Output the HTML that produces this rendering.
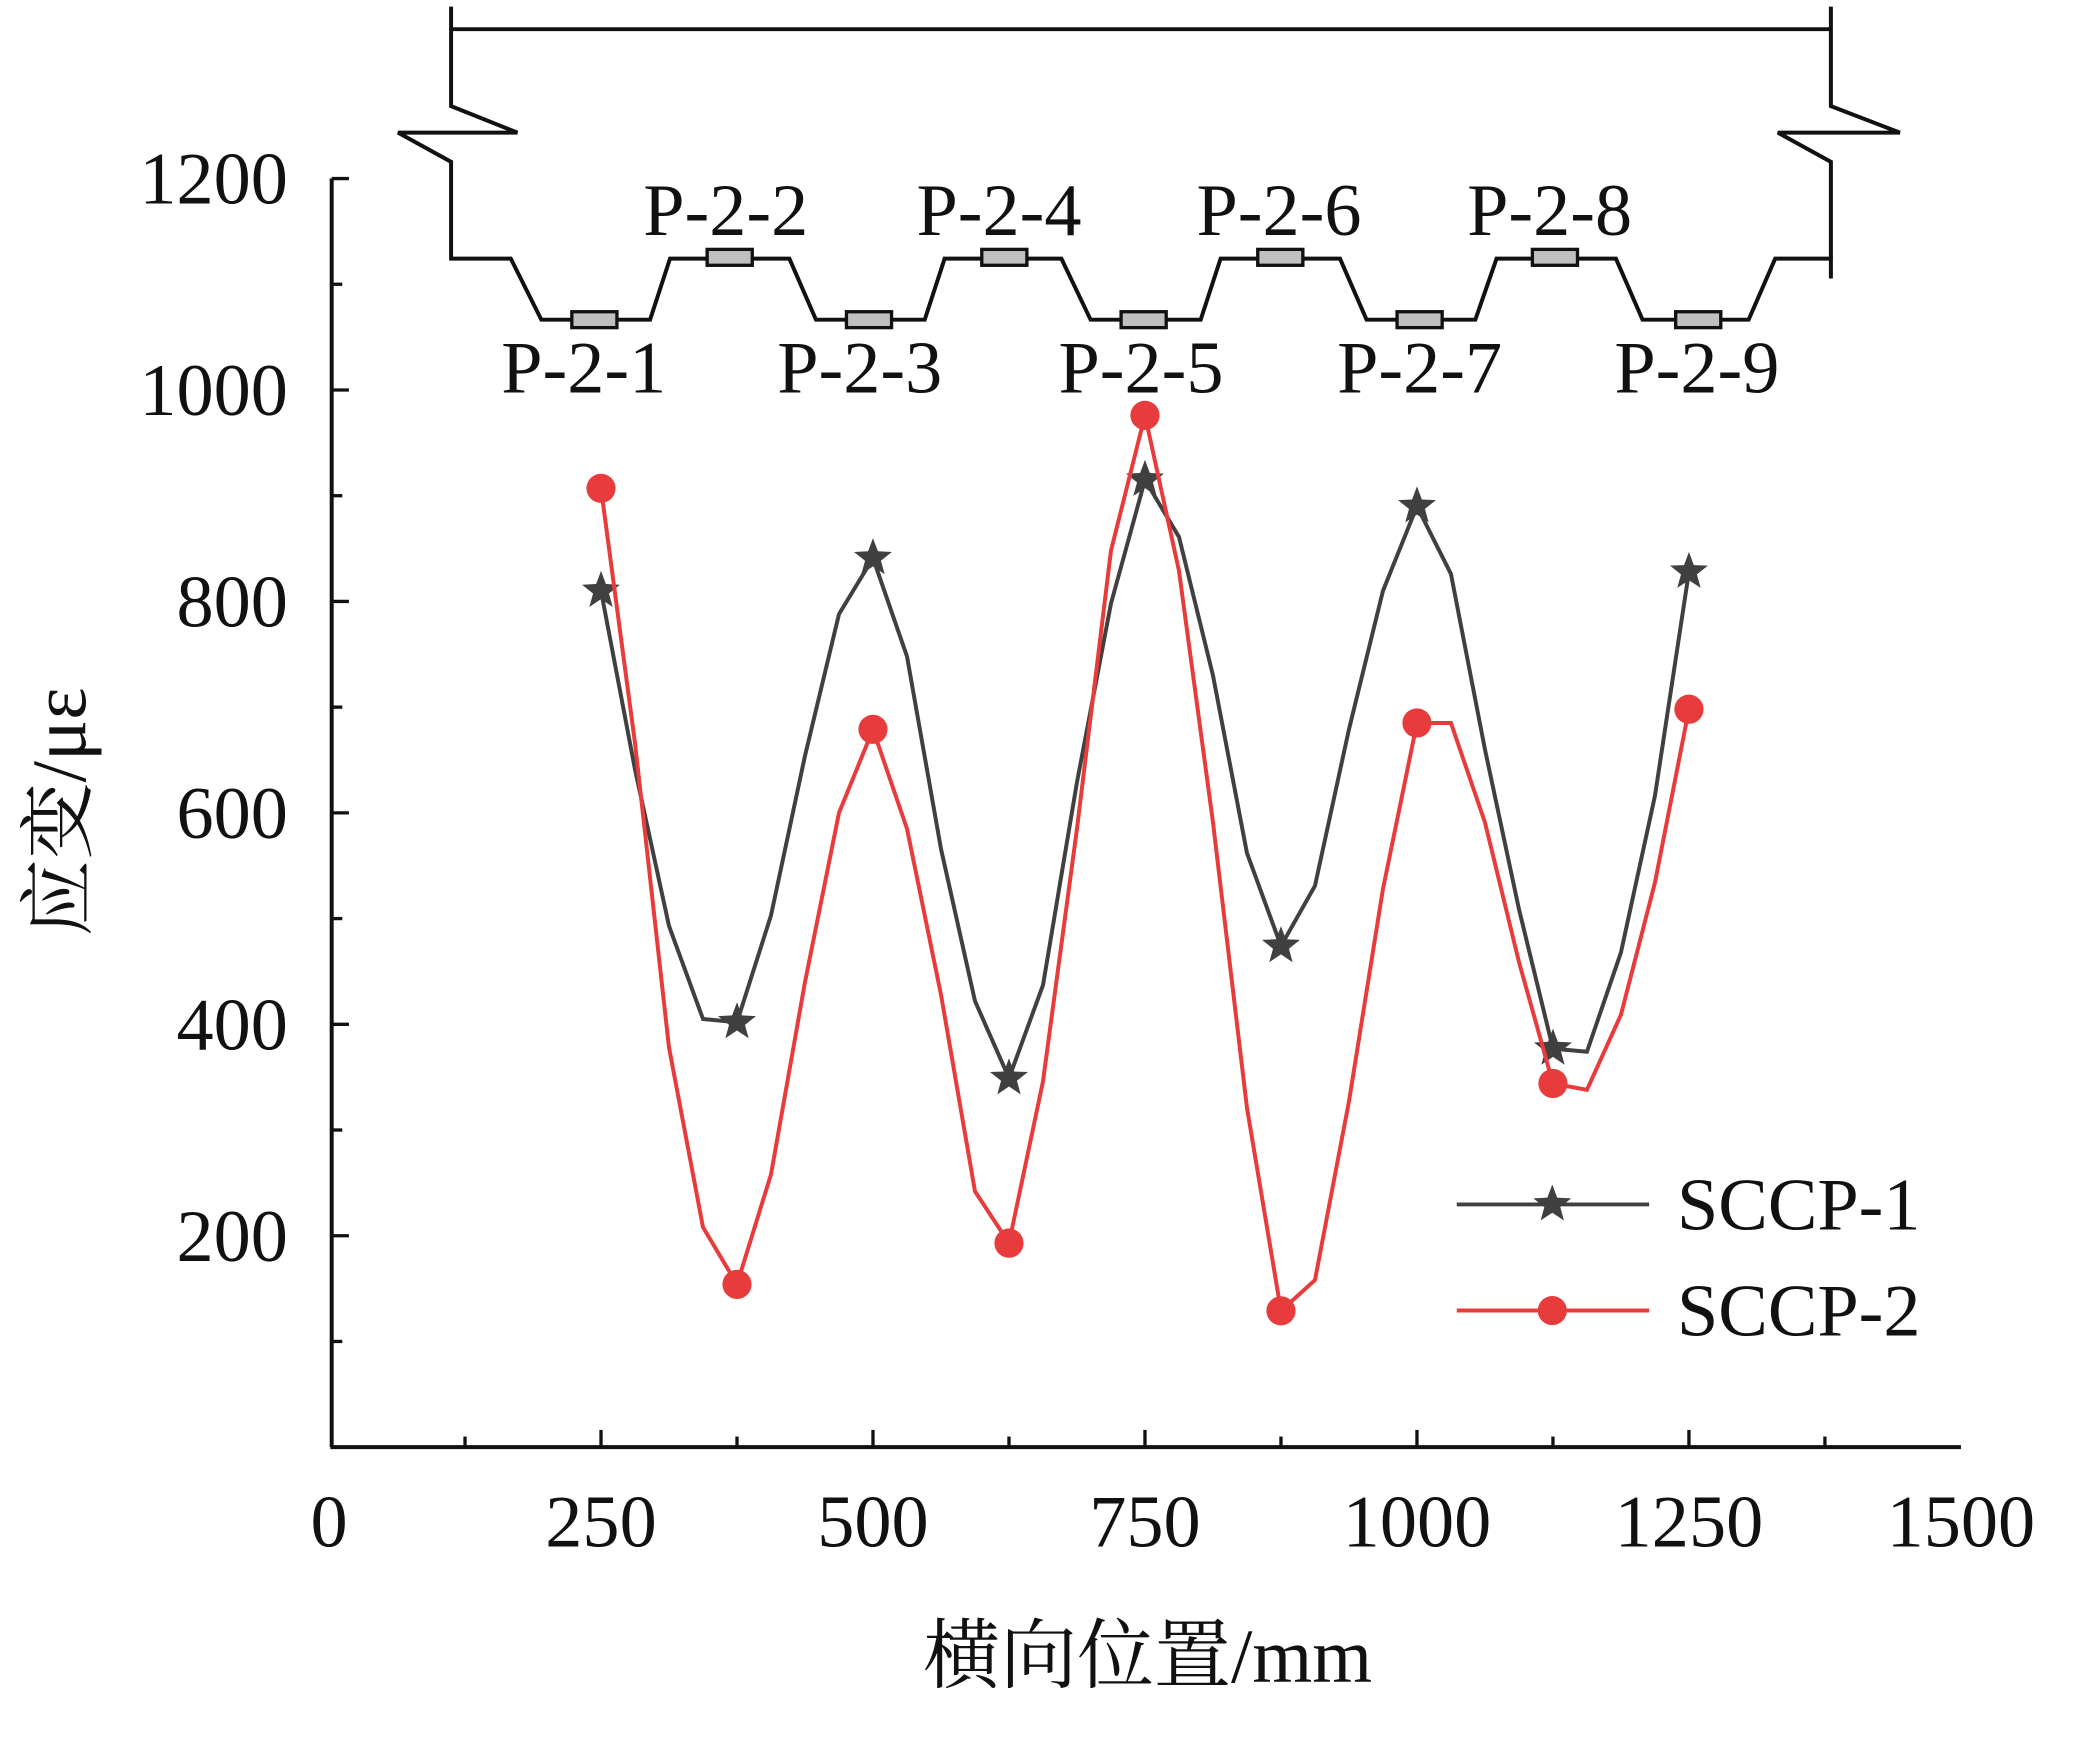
<!DOCTYPE html>
<html><head><meta charset="utf-8"><style>
html,body{margin:0;padding:0;background:#fff;}
svg{display:block;}
text{font-family:"Liberation Serif","Noto Serif CJK SC",serif;fill:#111;}
</style></head><body>
<svg id="chart" width="2079" height="1739" viewBox="0 0 1567 1311" preserveAspectRatio="none" xmlns="http://www.w3.org/2000/svg">
<g id="diagram" stroke="#111" stroke-width="3" fill="none">
<polyline points="340,5 340,80 390,100 300,100 340,122 340,195 385,195 408,241 490,241 505,195 595,195 615,241 697,241 712,195 800,195 822,241 905,241 920,195 1010,195 1030,241 1112,241 1128,195 1218,195 1238,241 1318,241 1338,195 1380,195 1380,210"/>
<polyline points="1380,5 1380,80 1432,100 1340,100 1380,122 1380,195"/>
<line x1="340" y1="22" x2="1380" y2="22"/>
</g>
<g id="axes"></g>
<g id="plot"></g>
<text transform="translate(64,612) rotate(-90)" text-anchor="middle" font-size="58">应变/με</text>
<text x="865" y="1268" text-anchor="middle" font-size="58">横向位置/mm</text>
</svg>
<script>
const xValues=[250,281.25,312.5,343.75,375,406.25,437.5,468.75,500,531.25,562.5,593.75,625,656.25,687.5,718.75,750,781.25,812.5,843.75,875,906.25,937.5,968.75,1000,1031.25,1062.5,1093.75,1125,1156.25,1187.5,1218.75,1250];
const sccp1=[810,641,493,405,402,503,654,788,841,748,566,422,349,437,629,798,915,861,730,562,474,531,679,810,890,826,660,509,377,374,468,616,828];
const sccp2=[907,666,378,208,154,258,440,600,679,585,428,242,193,346,585,848,976,829,591,321,129,158,327,528,685,685,591,459,344,338,409,534,698];
const xTicks=[0,250,500,750,1000,1250,1500];
const yTicks=[200,400,600,800,1000,1200];
const gaugeLabels=["P-2-1","P-2-2","P-2-3","P-2-4","P-2-5","P-2-6","P-2-7","P-2-8","P-2-9"];
const gaugeX=[448,550,655,757,862,965,1070,1172,1280];
const labelX=[440,547,648,753,860,964,1070,1168,1279];
const NS="http://www.w3.org/2000/svg";
const sx=v=>248+v*0.82, sy=v=>1091-v*0.797;
function mk(tag,attrs,parent){const e=document.createElementNS(NS,tag);for(const k in attrs)e.setAttribute(k,attrs[k]);parent.appendChild(e);return e;}
const ax=document.getElementById('axes'), pl=document.getElementById('plot'), svg=document.getElementById('chart');
let e=mk('line',{x1:250,y1:sy(1200),x2:250,y2:1091,stroke:'#111','stroke-width':3},ax);

e=mk('line',{x1:249,y1:1091,x2:1478,y2:1091,stroke:'#111','stroke-width':3},ax);

for(let v=100;v<=1200;v+=100){const major=v%200===0;
 e=mk('line',{x1:250,x2:250+(major?13:8),y1:sy(v),y2:sy(v),stroke:'#111','stroke-width':2.5},ax);
 }
yTicks.forEach(v=>{const t=mk('text',{x:217,y:sy(v)+19,'text-anchor':'end','font-size':56},ax);t.textContent=v;
 });
for(let v=125;v<1500;v+=125){const major=v%250===0;
 e=mk('line',{x1:sx(v),x2:sx(v),y1:1091,y2:1091-(major?13:8),stroke:'#111','stroke-width':2.5},ax);
 }
xTicks.forEach(v=>{const t=mk('text',{x:sx(v),y:1166,'text-anchor':'middle','font-size':56},ax);t.textContent=v;
 });
gaugeLabels.forEach((l,i)=>{const top=i%2===1;const gy=top?194:241;
 const r=mk('rect',{x:gaugeX[i]-17,y:gy-6,width:34,height:12,fill:'#c0c0c0',stroke:'#111','stroke-width':2.5},svg);
 
 const t=mk('text',{x:labelX[i],y:top?177:296,'text-anchor':'middle','font-size':56},svg);t.textContent=l;
 });
function star(cx,cy,r,parent,color){let p=[];for(let i=0;i<10;i++){const a=-Math.PI/2+i*Math.PI/5;const rr=i%2?r*0.42:r;p.push((cx+rr*Math.cos(a)).toFixed(1)+','+(cy+rr*Math.sin(a)).toFixed(1));}
 return mk('polygon',{points:p.join(' '),fill:color},parent);}
function series(vals,color,name,marker){
 const l=mk('polyline',{points:vals.map((v,i)=>sx(xValues[i])+','+sy(v)).join(' '),fill:'none',stroke:color,'stroke-width':3},pl);
 
 vals.forEach((v,i)=>{if(i%4)return;let m;
  if(marker==='star')m=star(sx(xValues[i]),sy(v),15,pl,color);else m=mk('circle',{cx:sx(xValues[i]),cy:sy(v),r:11,fill:color},pl);
  });
}
series(sccp1,'#404040','sccp-1','star');
series(sccp2,'#e83c3c','sccp-2','circle');
[['SCCP-1','#404040','star',908],['SCCP-2','#e83c3c','circle',988]].forEach(([n,c,m,y])=>{
 const g=mk('g',{},svg);
 mk('line',{x1:1098,x2:1243,y1:y,y2:y,stroke:c,'stroke-width':3},g);
 if(m==='star')star(1170,y,15,g,c);else mk('circle',{cx:1170,cy:y,r:11,fill:c},g);
 const t=mk('text',{x:1264,y:y+19,'font-size':56},g);t.textContent=n;});
</script>
</body></html>
